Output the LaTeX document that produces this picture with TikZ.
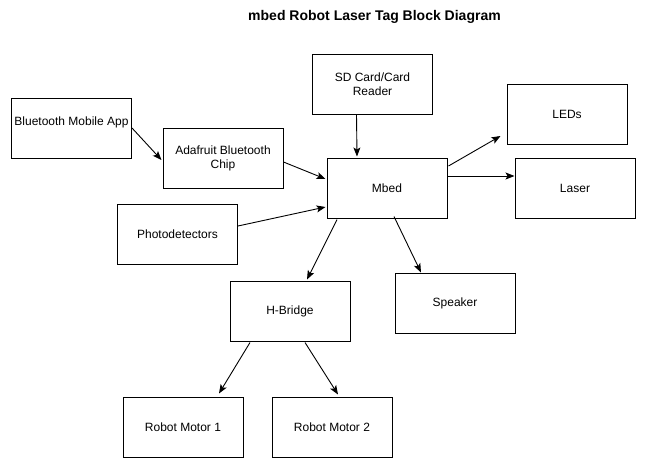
\documentclass[tikz,border=0pt]{standalone}
\usepackage{fontspec}
\setmainfont{Liberation Sans}
\usetikzlibrary{arrows.meta,calc}
\begin{document}
\begin{tikzpicture}[x=1pt,y=-1pt,
  box/.style={draw=black,line width=1pt,minimum width=120pt,minimum height=60pt,inner sep=0pt,
    font=\fontsize{12}{14}\selectfont,align=center},
  lbl/.style={inner sep=0pt,font=\fontsize{12}{14}\selectfont,align=center},
  arr/.style={draw=black,line width=0.9pt,-{Stealth[length=9pt,width=7pt,inset=2pt]}}]
\useasboundingbox (0,0) rectangle (654,469);
\node[inner sep=0pt,font=\fontsize{14}{16}\selectfont\bfseries] (title) at (374.5,17) {mbed Robot Laser Tag Block Diagram};
\node[box] (bt) at (71.5,128) {};
\node[lbl] (btt) at (71.5,122) {Bluetooth Mobile App};
\node[box] (ada) at (223,158) {Adafruit Bluetooth\\Chip};
\node[box] (sd) at (372.5,84) {SD Card/Card\\Reader};
\node[box] (leds) at (567,114) {LEDs};
\node[box] (mbed) at (387,188) {Mbed};
\node[box] (laser) at (575,188) {Laser};
\node[box] (photo) at (177.5,234) {Photodetectors};
\node[box] (hb) at (290,311) {H-Bridge};
\node[box] (spk) at (455,303) {Speaker};
\node[box] (m1) at (183,427) {Robot Motor 1};
\node[box] (m2) at (332,427) {Robot Motor 2};
\draw[arr] (bt.east) -- ($(ada.west)+(-1,2)$);
\draw[arr] ($(ada.east)+(0,4)$) -- ($(mbed.west)+(-1,-9)$);
\draw[arr] ($(photo.east)+(0,-8)$) -- ($(mbed.west)+(-1,19)$);
\draw[arr] ($(sd.south)+(-16,0)$) -- ($(mbed.north)+(-30,-1)$);
\draw[arr] ($(mbed.east)+(1,-22)$) -- ($(leds.west)+(-6,22)$);
\draw[arr] ($(mbed.east)+(0,-12)$) -- ($(laser.west)+(0,-12)$);
\draw[arr] ($(mbed.south)+(-50,1)$) -- ($(hb.north)+(17,-1)$);
\draw[arr] ($(mbed.south)+(7,-2)$) -- ($(spk.north)+(-34,0)$);
\draw[arr] ($(hb.south)+(-40,1)$) -- ($(m1.north)+(36,-3)$);
\draw[arr] ($(hb.south)+(15,1)$) -- ($(m2.north)+(6,-2)$);
\end{tikzpicture}
\end{document}
